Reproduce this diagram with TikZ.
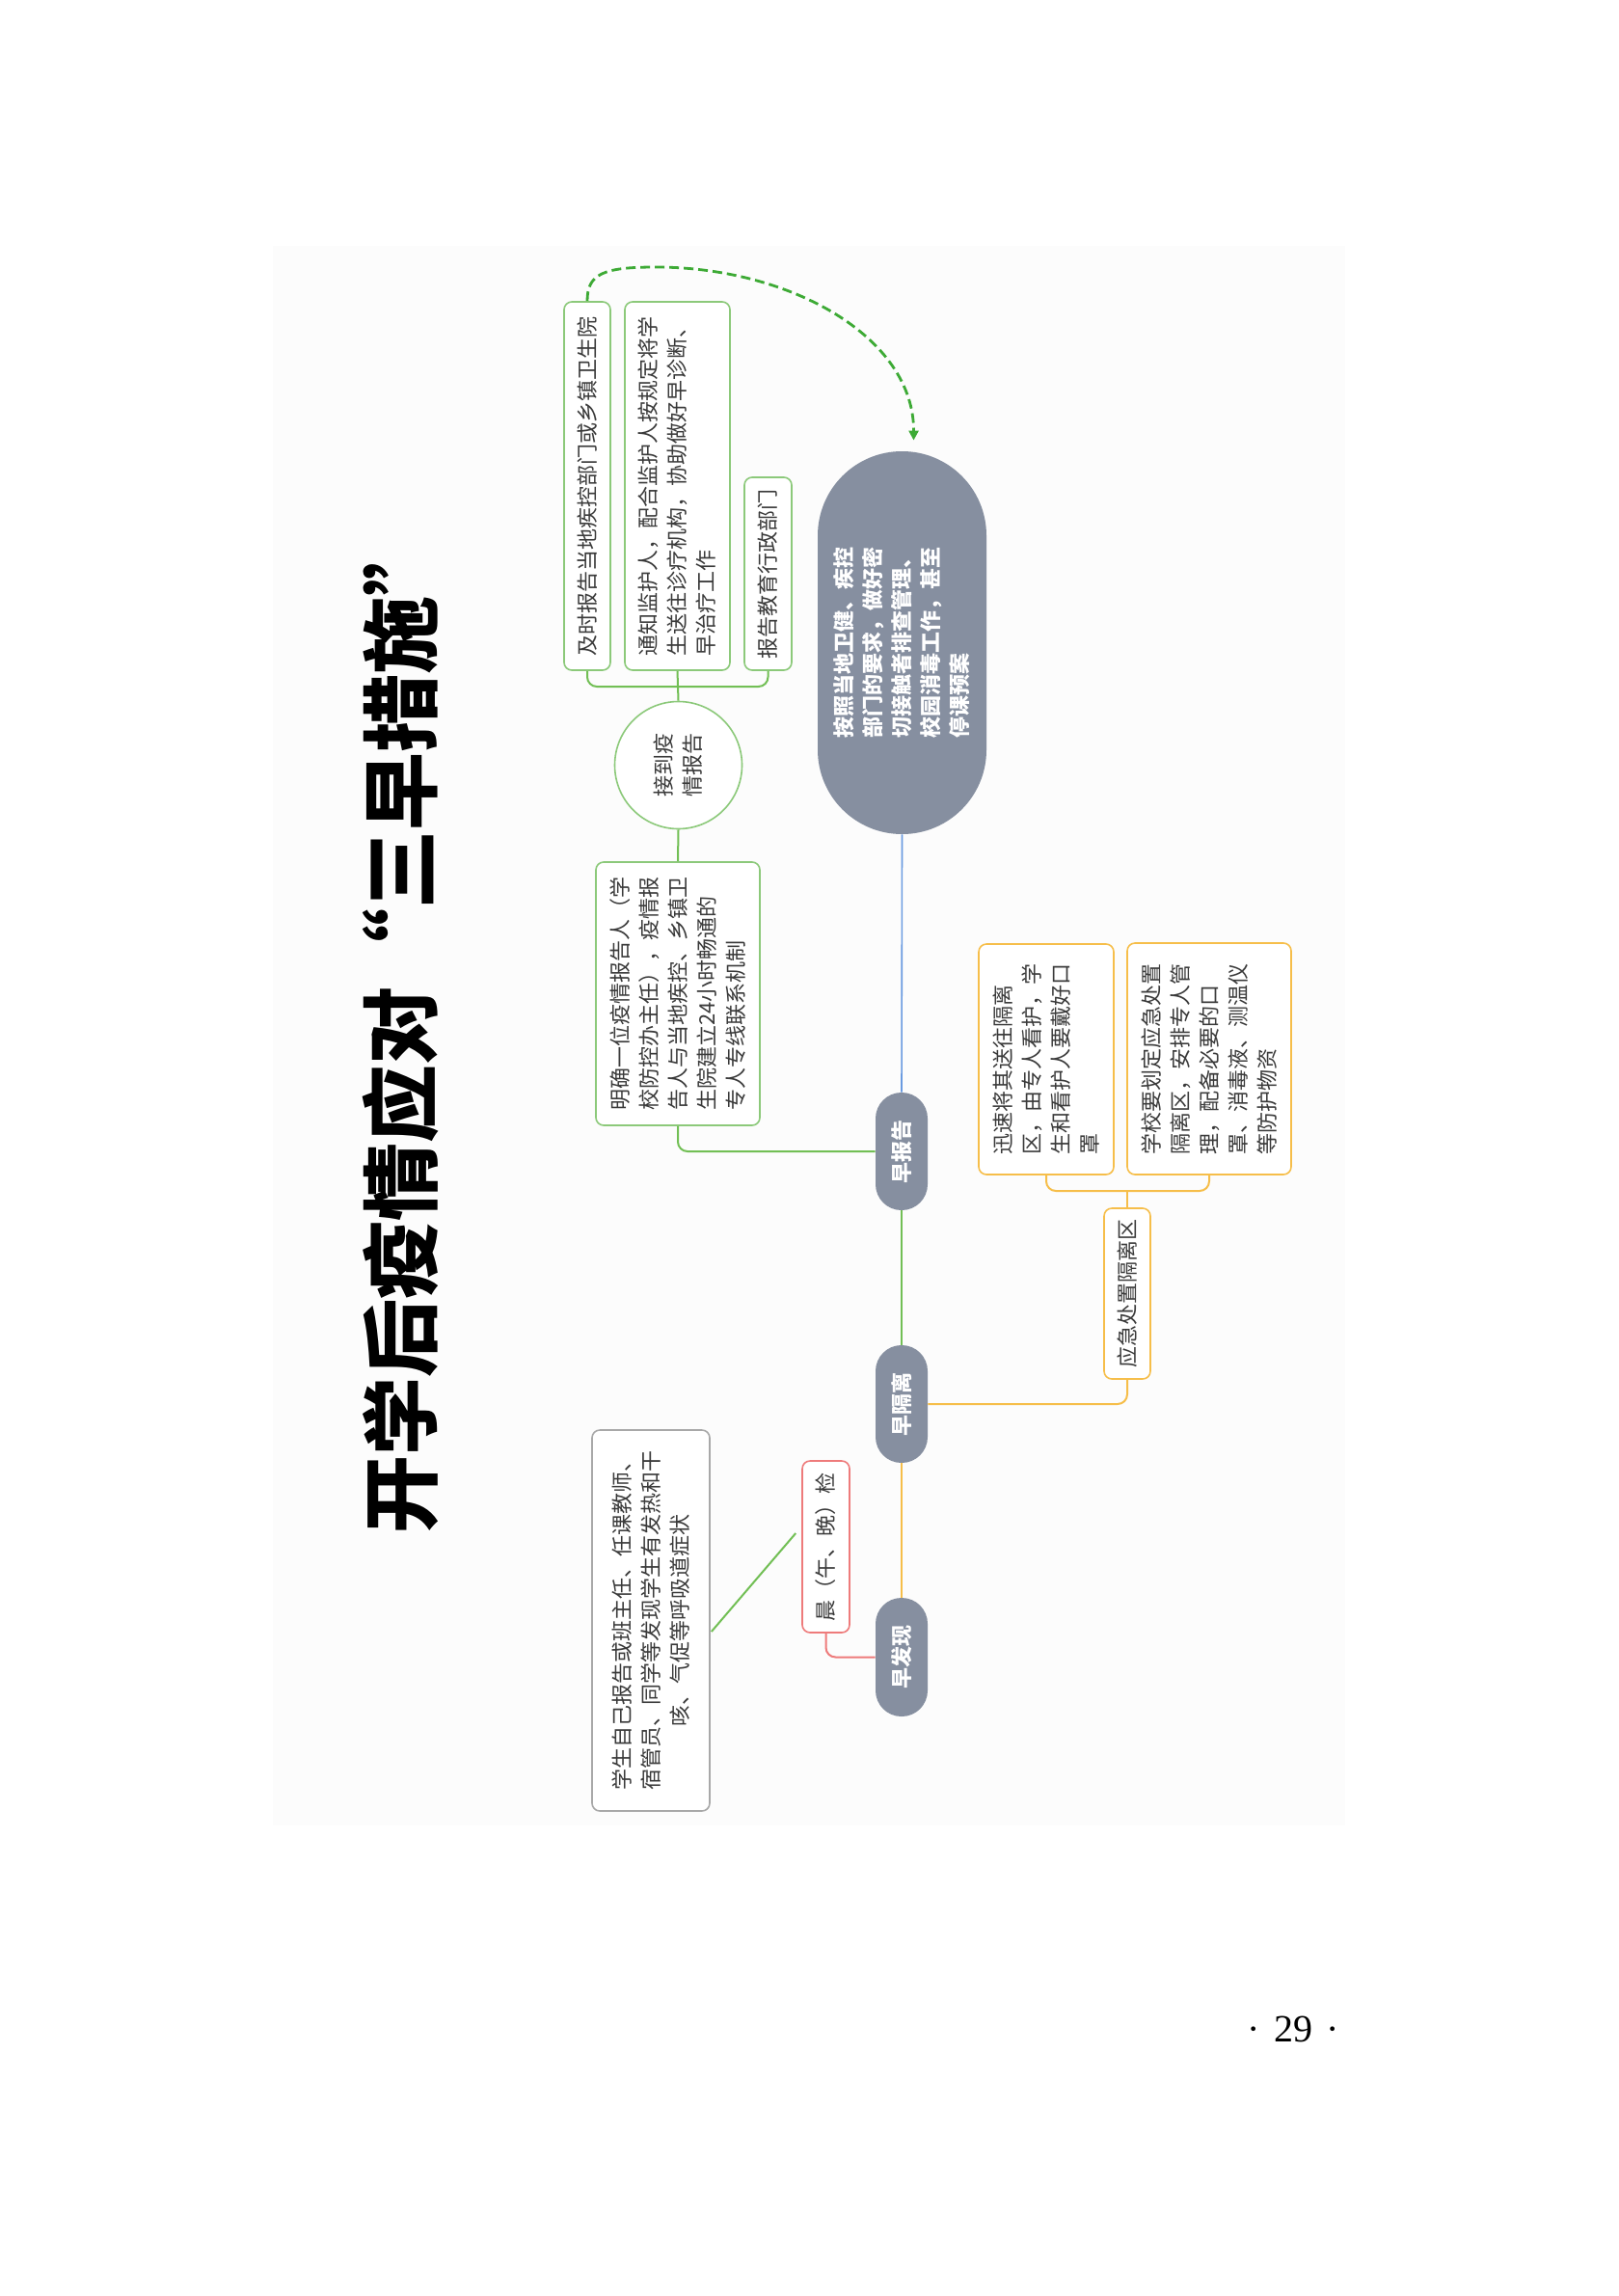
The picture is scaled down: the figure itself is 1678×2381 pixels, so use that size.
\documentclass[tikz,border=0pt]{standalone}
\usepackage{fontspec}
\setmainfont{Noto Sans CJK SC}
\newfontfamily\seriffont{Liberation Serif}
\usetikzlibrary{arrows.meta,calc}
\definecolor{bgc}{HTML}{FCFCFC}
\definecolor{gborder}{HTML}{8CC97A}
\definecolor{gline}{HTML}{72BF55}
\definecolor{dgreen}{HTML}{3DAA35}
\definecolor{oline}{HTML}{F6BE4A}
\definecolor{rline}{HTML}{EE7B7B}
\definecolor{bline}{HTML}{6A9BE0}
\definecolor{topicfill}{HTML}{868FA0}
\definecolor{grayb}{HTML}{A8A8A8}
\definecolor{txt}{HTML}{3A3A3A}
\tikzset{
  box/.style={draw=gborder, line width=0.8pt, rounded corners=4pt, rotate=90,
    inner sep=0pt, align=left, text=txt, fill=white,
    font=\fontsize{11}{15}\selectfont},
  gbox/.style={box, draw=gborder},
  obox/.style={box, draw=oline},
  topic/.style={fill=topicfill, rotate=90, text=white, inner sep=0pt,
    align=center, font=\fontsize{11}{15}\selectfont\bfseries},
  gl/.style={draw=gline, line width=1pt, rounded corners=5pt},
  ol/.style={draw=oline, line width=1pt, rounded corners=5pt},
  rl/.style={draw=rline, line width=1pt, rounded corners=5pt},
  bl/.style={draw=bline, line width=0.8pt},
  darrow/.style={draw=dgreen, line width=1.4pt, dash pattern=on 5pt off 2.5pt,
    -{Triangle[length=5pt,width=5pt]}}
}
\begin{document}
\begin{tikzpicture}[x=0.5pt,y=-0.5pt]
\useasboundingbox (0,0) rectangle (1678,2381);
\fill[white] (0,0) rectangle (1678,2381);
\fill[bgc] (283,255) rectangle (1395,1893);

% title
\node[rotate=90, font=\fontsize{40.5}{48}\selectfont\bfseries] (title) at (416,1064)
  {开学后疫情应对\makebox[1em][r]{“}三早措施\makebox[1em][l]{”}};

% top group
\node[gbox, minimum width=191pt, minimum height=24pt] (A) at (609,504)
  {及时报告当地疾控部门或乡镇卫生院};
\node[gbox, minimum width=191pt, minimum height=54.5pt] (B) at (702.5,504)
  {通知监护人，配合监护人按规定将学\\生送往诊疗机构，协助做好早诊断、\\早治疗工作};
\node[gbox, minimum width=100pt, minimum height=24.5pt] (C) at (796.5,595)
  {报告教育行政部门};
\node[gbox, circle, minimum size=66pt] (circ) at (703.5,793.5) {接到疫\\情报告};
\node[gbox, minimum width=136.5pt, minimum height=85pt] (D) at (703,1030.5)
  {明确一位疫情报告人（学\\校防控办主任），疫情报\\告人与当地疾控、乡镇卫\\生院建立24小时畅通的\\专人专线联系机制};

% root
\node[topic, align=left, minimum width=198.5pt, minimum height=87.5pt, rounded corners=43.7pt] (root) at (935.5,666.5)
  {按照当地卫健、疾控\\部门的要求，做好密\\切接触者排查管理、\\校园消毒工作，甚至\\停课预案};

% main topics
\node[topic, minimum width=61pt, minimum height=27pt, rounded corners=13.4pt] (zbg) at (935,1194) {早报告};
\node[topic, minimum width=61pt, minimum height=27pt, rounded corners=13.4pt] (zgl) at (935,1456) {早隔离};
\node[topic, minimum width=61.5pt, minimum height=27pt, rounded corners=13.4pt] (zfx) at (935,1718.5) {早发现};

% isolation group
\node[obox, minimum width=119.5pt, minimum height=70pt] (E) at (1085,1098.5)
  {迅速将其送往隔离\\区，由专人看护，学\\生和看护人要戴好口\\罩};
\node[obox, minimum width=120pt, minimum height=85pt] (F) at (1254,1098)
  {学校要划定应急处置\\隔离区，安排专人管\\理，配备必要的口\\罩、消毒液、测温仪\\等防护物资};
\node[obox, minimum width=88.5pt, minimum height=24pt] (ying) at (1169,1341.5) {应急处置隔离区};

% discovery group
\node[box, draw=rline, minimum width=89pt, minimum height=24.5pt] (chen) at (856.5,1604) {晨（午、晚）检};
\node[box, draw=grayb, align=center, minimum width=197.5pt, minimum height=61pt] (G) at (675,1680.5)
  {学生自己报告或班主任、任课教师、\\宿管员、同学等发现学生有发热和干\\咳、气促等呼吸道症状};

% connectors
\draw[bl] (root.west) -- (zbg.east);
\draw[gl] (zbg.west) -- (zgl.east);
\draw[ol] (zgl.west) -- (zfx.east);
\draw[gl] (zbg.north) -| (D.west);
\draw[gl] (D.east) -- (circ.west);
\coordinate (j1) at (703,712);
\draw[gl] (circ.east) -- (B.west);
\draw[gl] (A.west) |- (j1) -| (C.west);
\draw[darrow] (A.east) .. controls ($(A.east)+(0,-28)$) and (625,277) .. (680,277)
  .. controls (820,277) and (948,350) .. ([shift={(12,-11)}]root.east);
\draw[ol] (zgl.south) -| (ying.west);
\coordinate (j2) at (1169,1235);
\draw[ol] (ying.east) -- (j2);
\draw[ol] (E.west) |- (j2) -| (F.west);
\draw[rl] (zfx.north) -| (chen.west);
\draw[gl] ([shift={(-6,-14)}]chen.north) -- ([shift={(1,11.5)}]G.south);

% page number
\node[font=\seriffont\fontsize{20}{24}\selectfont] (pg) at (1341,2104) {·\hspace{0.35em}29\hspace{0.35em}·};
\end{tikzpicture}
\end{document}
